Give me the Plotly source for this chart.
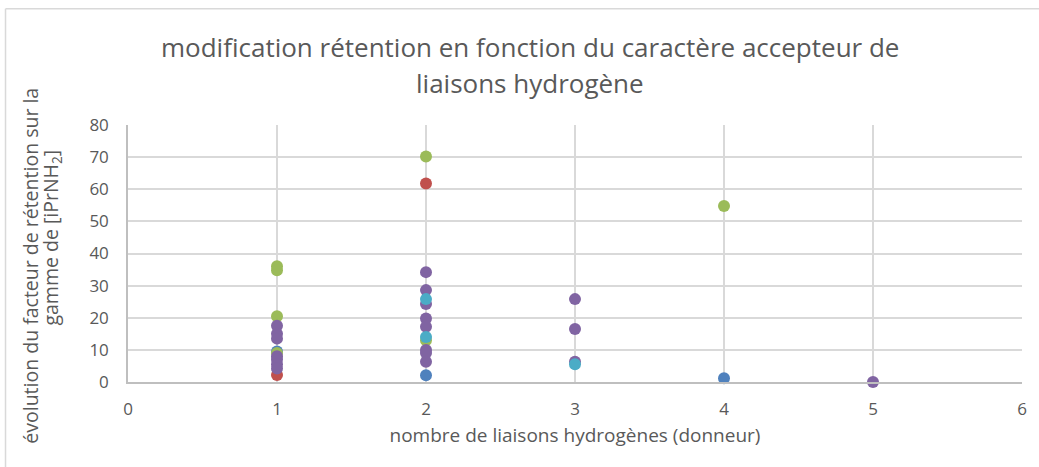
import plotly.graph_objects as go

# Retention factor change vs. number of H-bond donors, one series per group
blue_x = [1, 2, 4]
blue_y = [9.5, 2.1, 1.2]

red_x = [1, 2]
red_y = [2.2, 61.8]

green_x = [1, 1, 1, 1, 2, 2, 4]
green_y = [36.0, 34.8, 20.5, 9.0, 70.2, 13.0, 54.8]

purple_x = [1, 1, 1, 1, 1, 1, 1, 2, 2, 2, 2, 2, 2, 2, 2, 3, 3, 3, 5]
purple_y = [17.5, 15.0, 13.5, 8.0, 7.0, 5.5, 4.2,
            34.2, 28.6, 24.3, 19.8, 17.2, 10.0, 9.0, 6.3,
            25.8, 16.5, 6.3, 0.0]

cyan_x = [2, 2, 3]
cyan_y = [25.8, 14.0, 5.5]

series = [
    (blue_x, blue_y, "#4F81BD"),
    (red_x, red_y, "#C0504D"),
    (green_x, green_y, "#9BBB59"),
    (purple_x, purple_y, "#8064A2"),
    (cyan_x, cyan_y, "#4BACC6"),
]

x_ticks = [0, 1, 2, 3, 4, 5, 6]
y_ticks = [0, 10, 20, 30, 40, 50, 60, 70, 80]

title_lines = ["modification rétention en fonction du caractère accepteur de",
               "liaisons hydrogène"]
y_title_lines = ["évolution du facteur de rétention sur la",
                 "gamme de [iPrNH<sub>2</sub>]"]
x_title = "nombre de liaisons hydrogènes (donneur)"

fig = go.Figure()
for xs, ys, col in series:
    fig.add_trace(go.Scatter(
        x=xs, y=ys, mode="markers",
        marker=dict(size=12, color=col, line=dict(width=0)),
        showlegend=False, cliponaxis=False,
    ))

txt = "#595959"
font_family = "Open Sans, Noto Sans, Liberation Sans, sans-serif"

fig.update_layout(
    width=1039, height=467,
    margin=dict(l=128, r=12, t=125, b=85),
    paper_bgcolor="white", plot_bgcolor="white",
    font=dict(family=font_family, color=txt, size=17),
    xaxis=dict(
        range=[0, 6], tickvals=x_ticks, ticktext=[str(v) for v in x_ticks],
        showgrid=True, gridcolor="#D9D9D9", gridwidth=1.5,
        zeroline=False, showline=True, linecolor="#BFBFBF", linewidth=1.5,
        ticks="outside", ticklen=11, tickcolor="rgba(0,0,0,0)",
        tickfont=dict(size=17, color=txt),
        title=dict(text=x_title, font=dict(size=19, color=txt), standoff=10),
    ),
    yaxis=dict(
        range=[0, 80], tickvals=y_ticks,
        showgrid=True, gridcolor="#D9D9D9", gridwidth=1.5,
        zeroline=False, showline=True, linecolor="#BFBFBF", linewidth=1.5,
        ticks="outside", ticklen=14, tickcolor="rgba(0,0,0,0)",
        tickfont=dict(size=17, color=txt),
    ),
)

# chart title, two centred lines
for line, ypx in zip(title_lines, [47, 83]):
    fig.add_annotation(text=line, xref="paper", yref="paper",
                       x=(532 - 128) / 899, y=(381.7 - ypx) / 256.7,
                       xanchor="center", yanchor="middle", showarrow=False,
                       font=dict(size=26, color=txt, family=font_family))

# vertical axis title, two rotated lines
for line, xpx, ypx in zip(y_title_lines, [30, 51], [266, 237]):
    fig.add_annotation(text=line, xref="paper", yref="paper",
                       x=(xpx - 128) / 899, y=(381.7 - ypx) / 256.7,
                       xanchor="center", yanchor="middle", showarrow=False,
                       textangle=-90,
                       font=dict(size=19.5, color=txt, family=font_family))

# chart-area border (top and left edges)
fig.add_shape(type="line", xref="paper", yref="paper",
              x0=-0.137, x1=1.02, y0=1.452, y1=1.452,
              line=dict(color="#D9D9D9", width=1.5))
fig.add_shape(type="line", xref="paper", yref="paper",
              x0=-0.137, x1=-0.137, y0=1.452, y1=-0.4,
              line=dict(color="#D9D9D9", width=1.5))

fig.write_html("out.html")
